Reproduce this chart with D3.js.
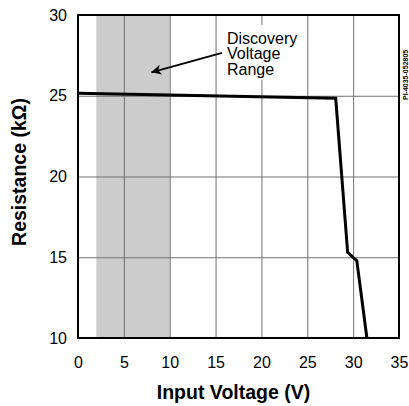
<!DOCTYPE html>
<html>
<head>
<meta charset="utf-8">
<script src="https://cdn.jsdelivr.net/npm/d3@7"></script>
<style>
  body { margin: 0; background: #fff; }
  text { font-family: 'Liberation Sans', Arial, sans-serif; }
</style>
</head>
<body>
<div id="chart"></div>
<script>
const width = 409;
const height = 406;
const margin = { top: 15, right: 10, bottom: 68, left: 78 };

// data
const xTicks = [0, 5, 10, 15, 20, 25, 30, 35];
const yTicks = [10, 15, 20, 25, 30];
const voltage = [0, 28.1, 29.4, 30.4, 31.5];
const resistance = [25.15, 24.84, 15.31, 14.79, 10];
const discoveryRange = [2, 10];
const noteLines = ['Discovery', 'Voltage', 'Range'];
const arrowFrom = [15.7, 27.65];
const arrowTo = [8.0, 26.45];

const svg = d3
  .select('#chart')
  .append('svg')
  .attr('width', width)
  .attr('height', height);

const x = d3.scaleLinear().domain([0, 35]).range([margin.left, width - margin.right]);
const y = d3.scaleLinear().domain([10, 30]).range([height - margin.bottom, margin.top]);

// shaded discovery range
svg
  .append('rect')
  .attr('x', x(discoveryRange[0]))
  .attr('y', y(30))
  .attr('width', x(discoveryRange[1]) - x(discoveryRange[0]))
  .attr('height', y(10) - y(30))
  .attr('fill', '#cccccc');

// grid
const xGrid = svg
  .append('g')
  .attr('transform', `translate(0, ${y(10)})`)
  .call(d3.axisBottom(x).tickValues(xTicks).tickSize(-(y(10) - y(30))).tickFormat(''));
const yGrid = svg
  .append('g')
  .attr('transform', `translate(${x(0)}, 0)`)
  .call(d3.axisLeft(y).tickValues(yTicks).tickSize(-(x(35) - x(0))).tickFormat(''));
[xGrid, yGrid].forEach((g) => {
  g.select('.domain').remove();
  g.selectAll('line').attr('stroke', '#707070').attr('stroke-width', 1);
});

// note box over grid
const noteX = 227;
svg
  .append('rect')
  .attr('x', 223)
  .attr('y', 25)
  .attr('width', 78)
  .attr('height', 55)
  .attr('fill', '#fff');
svg
  .append('g')
  .selectAll('text')
  .data(noteLines)
  .join('text')
  .attr('x', noteX)
  .attr('y', (d, i) => 43.5 + i * 15.5)
  .attr('font-size', 16)
  .attr('fill', '#000')
  .text((d) => d);

// arrow
svg
  .append('defs')
  .append('marker')
  .attr('id', 'head')
  .attr('viewBox', '0 0 10 10')
  .attr('refX', 10)
  .attr('refY', 5)
  .attr('markerWidth', 15)
  .attr('markerHeight', 10)
  .attr('markerUnits', 'userSpaceOnUse')
  .attr('orient', 'auto')
  .append('path')
  .attr('d', 'M0,0 L10,5 L0,10 L3,5 Z')
  .attr('fill', '#000');
svg
  .append('line')
  .attr('x1', x(arrowFrom[0]))
  .attr('y1', y(arrowFrom[1]))
  .attr('x2', x(arrowTo[0]))
  .attr('y2', y(arrowTo[1]))
  .attr('stroke', '#000')
  .attr('stroke-width', 1.8)
  .attr('marker-end', 'url(#head)');

// curve
const line = d3
  .line()
  .x((d, i) => x(voltage[i]))
  .y((d) => y(d));
svg
  .append('path')
  .datum(resistance)
  .attr('d', line)
  .attr('fill', 'none')
  .attr('stroke', '#000')
  .attr('stroke-width', 3)
  .attr('stroke-linejoin', 'miter');

// frame
svg
  .append('rect')
  .attr('x', x(0))
  .attr('y', y(30))
  .attr('width', x(35) - x(0))
  .attr('height', y(10) - y(30))
  .attr('fill', 'none')
  .attr('stroke', '#000')
  .attr('stroke-width', 2);

// tick labels
const xAxis = svg
  .append('g')
  .attr('transform', `translate(0, ${y(10)})`)
  .call(d3.axisBottom(x).tickValues(xTicks).tickSize(0).tickPadding(19));
const yAxis = svg
  .append('g')
  .attr('transform', `translate(${x(0)}, 0)`)
  .call(d3.axisLeft(y).tickValues(yTicks).tickSize(0).tickPadding(11));
[xAxis, yAxis].forEach((g) => {
  g.select('.domain').remove();
  g.selectAll('text')
    .attr('font-size', 16)
    .attr('font-family', "'Liberation Sans', Arial, sans-serif")
    .attr('fill', '#000');
});

// axis titles
svg
  .append('text')
  .attr('x', 233.5)
  .attr('y', 399)
  .attr('text-anchor', 'middle')
  .attr('font-size', 19.5)
  .attr('font-weight', 'bold')
  .text('Input Voltage (V)');
svg
  .append('text')
  .attr('transform', 'translate(26, 172) rotate(-90)')
  .attr('text-anchor', 'middle')
  .attr('font-size', 19.5)
  .attr('font-weight', 'bold')
  .text('Resistance (kΩ)');

// figure code
svg
  .append('text')
  .attr('transform', 'translate(408, 100) rotate(-90)')
  .attr('font-size', 7)
  .attr('font-weight', 'bold')
  .text('PI-4035-052805');
</script>
</body>
</html>
